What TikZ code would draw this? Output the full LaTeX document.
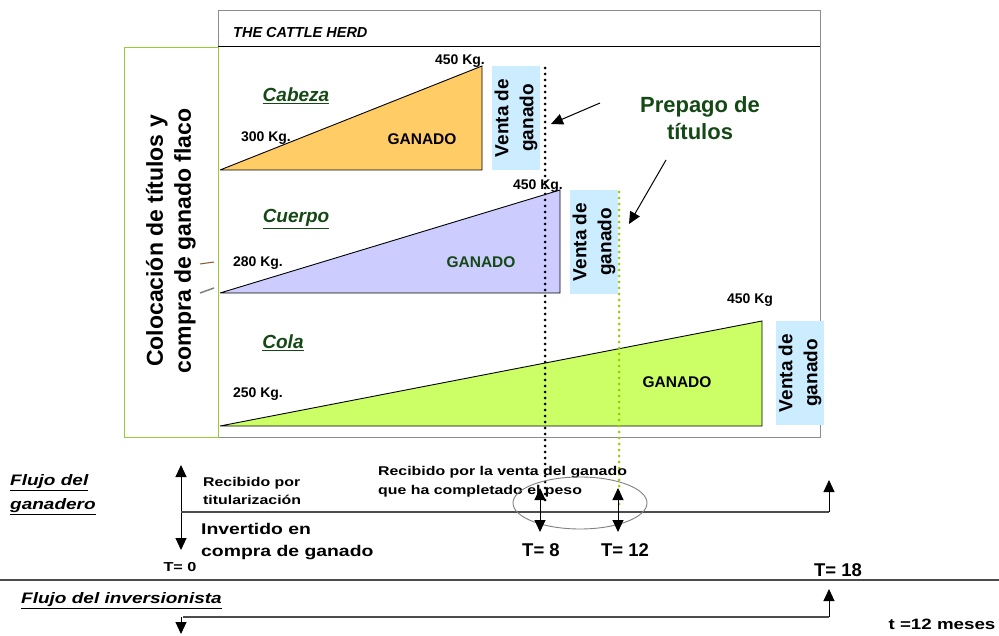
\documentclass[tikz,border=0pt]{standalone}
\usepackage{fontspec}
\setmainfont{Liberation Sans}
\newfontfamily\wf[FakeStretch=1.25]{Liberation Sans}
\usetikzlibrary{arrows.meta,shapes.geometric}
\definecolor{dkgreen}{RGB}{20,72,20}
\definecolor{orangefill}{RGB}{255,204,102}
\definecolor{lavfill}{RGB}{204,204,255}
\definecolor{limefill}{RGB}{204,255,102}
\definecolor{boxblue}{RGB}{204,236,255}
\definecolor{frameg}{RGB}{153,204,51}
\definecolor{dotgreen}{RGB}{153,204,0}
\tikzset{
  lbl/.style={font=\bfseries\fontsize{14}{16}\selectfont, inner sep=0pt},
  ganado/.style={font=\bfseries\fontsize{15.5}{18}\selectfont, inner sep=0pt},
  part/.style={font=\bfseries\itshape\fontsize{19}{21}\selectfont, text=dkgreen, inner sep=0pt},
  venta/.style={fill=boxblue, draw=none, rotate=90, minimum width=104pt, minimum height=48pt, align=center, inner sep=0pt, font=\bfseries\fontsize{19}{25}\selectfont},
  tri/.style={draw=black, line width=0.9pt},
  arr/.style={-{Triangle[length=12pt,width=11pt]}, line width=1pt},
  darr/.style={{Triangle[length=12pt,width=11pt]}-{Triangle[length=12pt,width=11pt]}, line width=1pt},
  flow/.style={line width=1.2pt, draw=black!70},
  tlab/.style={font=\bfseries\fontsize{18.5}{20}\selectfont, inner sep=0pt},
  dotline/.style={line width=3pt, dash pattern=on 0pt off 6pt, line cap=round},
}
\begin{document}
\begin{tikzpicture}[x=1pt,y=-1pt]
\useasboundingbox (0,0) rectangle (999,636);
% frames
\node[draw=black!45, line width=1pt, minimum width=602pt, minimum height=427pt, anchor=north west, inner sep=0pt] (frame) at (218,10) {};
\coordinate (hl) at (218,47); \coordinate (hr) at (820,47);
\draw[line width=1pt] (hl) -- (hr);
\node[anchor=west, font=\bfseries\itshape\fontsize{14.5}{16}\selectfont, inner sep=0pt] (title) at (233,33) {THE CATTLE HERD};
\node[draw=frameg, line width=1.2pt, minimum width=94pt, minimum height=390pt, anchor=north west, inner sep=0pt] (gbox) at (124,47) {};
\node[rotate=90, align=center, font=\bfseries\fontsize{23}{28}\selectfont, inner sep=0pt] (gtext) at (171,241) {Colocación de títulos y\\compra de ganado flaco};
\coordinate (s1a) at (200,264); \coordinate (s1b) at (214,262);
\draw[draw=brown!70!black, line width=1pt] (s1a) -- (s1b);
\coordinate (s2a) at (200,293); \coordinate (s2b) at (214,288);
\draw[draw=gray, line width=1.5pt] (s2a) -- (s2b);

% Cabeza
\coordinate (c1) at (220,170); \coordinate (c2) at (482,66); \coordinate (c3) at (482,170);
\fill[orangefill] (c1) -- (c2) -- (c3) -- cycle;
\draw[tri] (c1) -- (c2) -- (c3) -- (c1);
\node[part] (cab) at (296,96) {\underline{Cabeza}};
\node[lbl] (k300) at (266,138) {300 Kg.};
\node[lbl] (k450a) at (460,61) {450 Kg.};
\node[ganado] (g1) at (422,139) {GANADO};
\node[venta] (v1) at (516,118) {Venta de\\ganado};

% Cuerpo
\coordinate (d1) at (220,293); \coordinate (d2) at (560,190); \coordinate (d3) at (560,293);
\fill[lavfill] (d1) -- (d2) -- (d3) -- cycle;
\draw[tri] (d1) -- (d2) -- (d3) -- (d1);
\node[part] (cue) at (296,219) {\underline{Cuerpo}};
\node[lbl] (k280) at (258,263) {280 Kg.};
\node[lbl] (k450b) at (538,186) {450 Kg.};
\node[ganado, text=dkgreen] (g2) at (481,262) {GANADO};
\node[venta] (v2) at (594,242) {Venta de\\ganado};

% Cola
\coordinate (e1) at (220,426); \coordinate (e2) at (762,321); \coordinate (e3) at (762,426);
\fill[limefill] (e1) -- (e2) -- (e3) -- cycle;
\draw[tri] (e1) -- (e2) -- (e3) -- (e1);
\node[part] (col) at (283,343) {\underline{Cola}};
\node[lbl] (k250) at (258,394) {250 Kg.};
\node[lbl] (k450c) at (750,300) {450 Kg};
\node[ganado] (g3) at (677,382) {GANADO};
\node[venta] (v3) at (800,373) {Venta de\\ganado};

% dotted lines
\coordinate (dt1) at (545,68); \coordinate (db1) at (545,505);
\draw[dotline] (dt1) -- (db1);
\coordinate (dt2) at (619,192); \coordinate (db2) at (619,505);
\draw[dotline, dotgreen] (dt2) -- (db2);

% Prepago
\node[font=\bfseries\fontsize{22}{27}\selectfont, text=dkgreen, align=center, inner sep=0pt] (pre) at (700,118) {Prepago de\\títulos};
\coordinate (a1s) at (600,103); \coordinate (a1e) at (551,124);
\draw[arr] (a1s) -- (a1e);
\coordinate (a2s) at (666,160); \coordinate (a2e) at (629,224);
\draw[arr] (a2s) -- (a2e);

% Flujo del ganadero
\node[anchor=west, align=left, font=\wf\bfseries\itshape\fontsize{15.2}{24}\selectfont, inner sep=0pt] (fg) at (10,495) {\underline{Flujo del}\\\underline{ganadero}};
\coordinate (g0t) at (181,465); \coordinate (g0b) at (181,550);
\draw[darr] (g0t) -- (g0b);
\coordinate (hl1) at (181,512); \coordinate (hl1r) at (829,512); \coordinate (hl1t) at (829,480);
\draw[flow] (hl1) -- (hl1r);
\draw[arr] (hl1r) -- (hl1t);
\node[anchor=west, align=left, font=\wf\bfseries\fontsize{12.7}{18}\selectfont, inner sep=0pt] (rec1) at (203,491) {Recibido por\\titularización};
\node[anchor=west, align=left, font=\wf\bfseries\fontsize{15.5}{22}\selectfont, inner sep=0pt] (inv) at (201,542) {Invertido en\\compra de ganado};
\node[font=\wf\bfseries\fontsize{13}{14}\selectfont, inner sep=0pt] (t0) at (180,567) {T= 0};
\node[anchor=west, align=left, font=\wf\bfseries\fontsize{12.7}{19}\selectfont, inner sep=0pt] (rec2) at (378,482) {Recibido por la venta del ganado\\que ha completado el peso};
\node[draw=black!50, line width=0.9pt, ellipse, minimum width=134pt, minimum height=52pt, inner sep=0pt] (ell) at (580,503) {};
\coordinate (t8t) at (540,488); \coordinate (t8b) at (540,532);
\draw[darr] (t8t) -- (t8b);
\coordinate (t12t) at (618,488); \coordinate (t12b) at (618,532);
\draw[darr] (t12t) -- (t12b);
\node[tlab] (t8) at (541,550) {T= 8};
\node[tlab] (t12) at (625,550) {T= 12};
\node[tlab] (t18) at (838,570) {T= 18};

% separator
\coordinate (sepl) at (0,580); \coordinate (sepr) at (999,580);
\draw[flow] (sepl) -- (sepr);

% Flujo del inversionista
\node[anchor=west, font=\wf\bfseries\itshape\fontsize{15.2}{18}\selectfont, inner sep=0pt] (fi) at (21,601) {\underline{Flujo del inversionista}};
\coordinate (il) at (183,617); \coordinate (ir) at (829,617); \coordinate (it) at (829,589);
\draw[flow] (il) -- (ir);
\draw[arr] (ir) -- (it);
\coordinate (idt) at (181,617); \coordinate (idb) at (181,634);
\draw[arr] (idt) -- (idb);
\node[font=\wf\bfseries\fontsize{15}{16}\selectfont, inner sep=0pt] (tm) at (942,624) {t =12 meses};
\end{tikzpicture}
\end{document}
